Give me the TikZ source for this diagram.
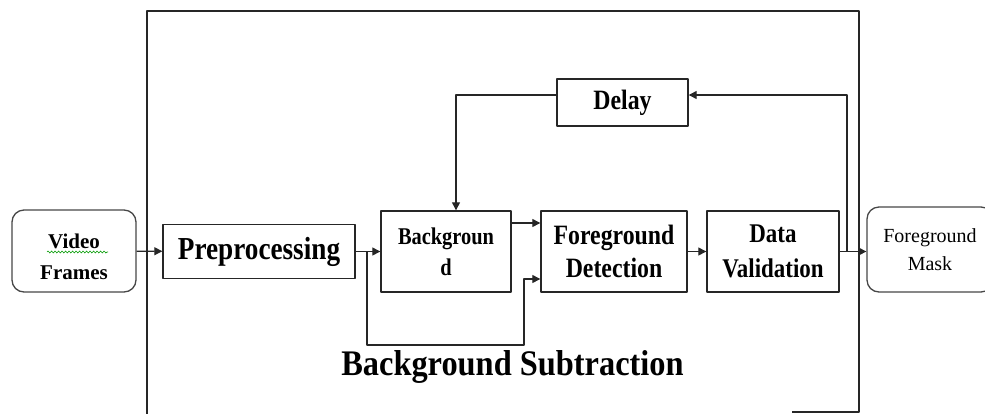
\documentclass[tikz,border=0pt]{standalone}
\usepackage{fontspec}
\setmainfont{Liberation Serif}
\newfontfamily\boxfont{Liberation Serif}[FakeStretch=0.85]
\newfontfamily\titlefont{Liberation Serif}[FakeStretch=0.9]
\usetikzlibrary{arrows.meta,decorations.pathmorphing}
\tikzset{
	blok/.style={draw=black!85,line width=1.4pt,inner sep=0pt,align=center},
	rblok/.style={draw=black!72,line width=1.3pt,rounded corners=12pt,inner sep=0pt,align=center},
	lijn/.style={line width=1.3pt,draw=black!85},
}
\begin{document}
\begin{tikzpicture}[x=1pt,y=-1pt,>={Triangle[length=8pt,width=8pt]}, line join=round]
	\useasboundingbox (0,0) rectangle (985,413);
	\clip (0,0) rectangle (985,413);
	\def\ym{251.5} % main line
	% frame
	\draw[lijn] (147,414) |- (859,11) |- (792,412);
	% blocks
	\node[rblok,minimum width=124pt,minimum height=82pt] (video) at (74,251) {};
	\node[align=center,font=\bfseries\fontsize{21}{31}\selectfont] (videotxt) at (74,257) {Video\\Frames};
	\node[blok,minimum width=192pt,minimum height=54pt,font=\boxfont\bfseries\fontsize{32}{36}\selectfont] (pre) at (259,\ym) {Preprocessing};
	\node[blok,minimum width=130pt,minimum height=81pt,font=\boxfont\bfseries\fontsize{24}{31}\selectfont] (bg) at (446,\ym) {Backgroun\\d};
	\node[blok,minimum width=146pt,minimum height=81pt,font=\boxfont\bfseries\fontsize{28}{33}\selectfont] (fg) at (614,\ym) {Foreground\\Detection};
	\node[blok,minimum width=132pt,minimum height=81pt,font=\boxfont\bfseries\fontsize{27}{35}\selectfont] (dv) at (773,\ym) {Data\\Validation};
	\node[rblok,minimum width=126pt,minimum height=85pt,font=\fontsize{20}{28}\selectfont] (mask) at (930,249.5) {Foreground\\Mask};
	\node[blok,minimum width=131pt,minimum height=47pt,font=\boxfont\bfseries\fontsize{28}{32}\selectfont] (delay) at (622.5,102.5) {Delay};
	\node[anchor=base,font=\titlefont\bfseries\fontsize{36}{40}\selectfont] (title) at (512.5,375) {Background Subtraction};
	% spell check line
	\draw[green!60!black,line width=0.6pt,decorate,decoration={snake,amplitude=1pt,segment length=3.5pt}] (47,252)--(108,252);
	% connectors
	\coordinate (split) at (367,\ym);
	\coordinate (bend) at (524,345);
	\coordinate (tap) at (847,\ym);
	\draw[lijn,->] (video) -- (pre);
	\draw[lijn,->] (pre) -- (bg);
	\draw[lijn,->] (split) |- (bend) |- ([yshift=-27.5pt]fg.west);
	\draw[lijn,->] ([yshift=28.5pt]bg.east) -- ([yshift=28.5pt]fg.west);
	\draw[lijn,->] (fg) -- (dv);
	\draw[lijn,->] (dv) -- (mask.west |- dv.east);
	\draw[lijn,->] (tap) |- ([yshift=7.5pt]delay.east);
	\draw[lijn,->] ([yshift=7.5pt]delay.west) -| ([xshift=10pt]bg.north);
\end{tikzpicture}
\end{document}
